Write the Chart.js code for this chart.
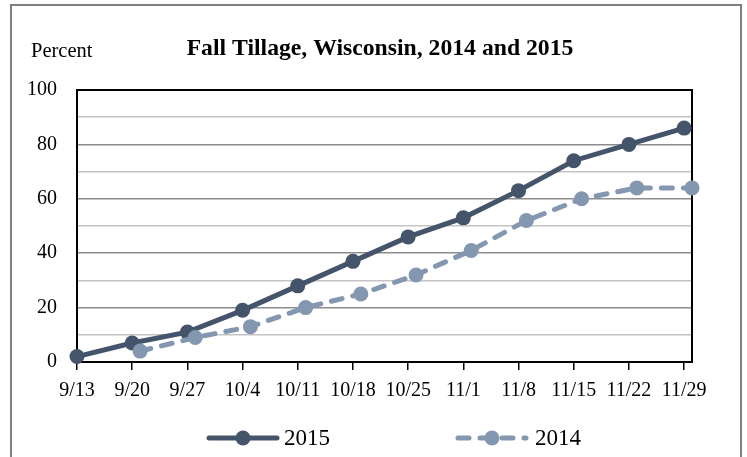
<!DOCTYPE html>
<html><head><meta charset="utf-8">
<script src="https://cdn.jsdelivr.net/npm/chart.js@4/dist/chart.umd.min.js"></script>
<style>html,body{margin:0;padding:0;background:#fff;}canvas{display:block;}</style>
</head><body>
<canvas id="c" width="747" height="457"></canvas>
<script>
// ---- data ----
const categories = ['9/13','9/20','9/27','10/4','10/11','10/18','10/25','11/1','11/8','11/15','11/22','11/29'];
const values2015 = [2,7,11,19,28,37,46,53,63,74,80,86];
const dates2014 = ['9/21','9/28','10/5','10/12','10/19','10/26','11/2','11/9','11/16','11/23','11/30'];
const values2014 = [4,9,13,20,25,32,41,52,60,64,64];
const yTickLabels = [0,20,40,60,80,100];
const axisEnd = '11/30';
const titleText = 'Fall Tillage, Wisconsin, 2014 and 2015';
const yAxisTitle = 'Percent';

// ---- helpers ----
function dayOf(md){ const p = md.split('/').map(Number); return Math.round((Date.UTC(2015,p[0]-1,p[1]) - Date.UTC(2015,8,13)) / 86400000); }
const categoryDays = categories.map(dayOf);
const SERIF = '"Liberation Serif", "Times New Roman", serif';

const C2015 = '#44546A', C2014 = '#8497B0';

const decor = {
  id: 'decor',
  beforeDraw(chart) {
    const ctx = chart.ctx;
    ctx.save();
    ctx.fillStyle = '#fff'; ctx.fillRect(0,0,chart.width,chart.height);
    ctx.strokeStyle = '#7f7f7f'; ctx.lineWidth = 2;
    ctx.strokeRect(11, 5, 730, 480);
    ctx.fillStyle = '#000';
    ctx.textBaseline = 'alphabetic';
    ctx.font = 'bold 23.7px ' + SERIF; ctx.textAlign = 'center';
    ctx.fillText(titleText, 380, 55);
    ctx.font = '20.5px ' + SERIF; ctx.textAlign = 'left';
    ctx.fillText(yAxisTitle, 31, 57);
    ctx.restore();
  },
  beforeDatasetsDraw(chart) {
    const ctx = chart.ctx, a = chart.chartArea;
    ctx.save();
    ctx.strokeStyle = '#000'; ctx.lineWidth = 2;
    ctx.strokeRect(a.left, a.top, a.right - a.left, a.bottom - a.top);
    ctx.restore();
  },
  afterDraw(chart) {
    const ctx = chart.ctx;
    const items = [[0, 243, 284], [1, 492, 535]];
    const cy = 438;
    items.forEach(([i, cx, tx]) => {
      const ds = chart.data.datasets[i];
      ctx.save();
      ctx.strokeStyle = ds.borderColor; ctx.lineWidth = ds.borderWidth; ctx.lineCap = 'round';
      ctx.setLineDash(ds.borderDash || []);
      ctx.beginPath(); ctx.moveTo(cx - 34, cy); ctx.lineTo(cx + 34, cy); ctx.stroke();
      ctx.setLineDash([]);
      ctx.fillStyle = ds.pointBackgroundColor;
      ctx.beginPath(); ctx.arc(cx, cy, ds.pointRadius, 0, Math.PI * 2); ctx.fill();
      ctx.fillStyle = '#000'; ctx.font = '23px ' + SERIF; ctx.textAlign = 'left'; ctx.textBaseline = 'middle';
      ctx.fillText(ds.label, tx, cy + 1);
      ctx.restore();
    });
  }
};

new Chart(document.getElementById('c'), {
  type: 'line',
  data: {
    datasets: [
      { label: '2015', order: 1, clip: false,
        data: categories.map((c, i) => ({ x: dayOf(c), y: values2015[i] })),
        borderColor: C2015, backgroundColor: C2015, pointBackgroundColor: C2015,
        borderWidth: 5, pointRadius: 7.5, pointBorderWidth: 0, pointHoverRadius: 7.5, tension: 0 },
      { label: '2014', order: 0, clip: false,
        data: dates2014.map((c, i) => ({ x: dayOf(c), y: values2014[i] })),
        borderColor: C2014, backgroundColor: C2014, pointBackgroundColor: C2014,
        borderWidth: 5, borderDash: [11, 11], borderCapStyle: 'round',
        pointRadius: 7.5, pointBorderWidth: 0, pointHoverRadius: 7.5, tension: 0 }
    ]
  },
  options: {
    responsive: false, animation: false, devicePixelRatio: 1,
    layout: { padding: { left: 20, right: 55, top: 90, bottom: 55 } },
    plugins: { legend: { display: false }, title: { display: false }, tooltip: { enabled: false } },
    scales: {
      x: {
        type: 'linear', min: 0, max: dayOf(axisEnd),
        afterBuildTicks: s => { s.ticks = categoryDays.map(v => ({ value: v })); },
        afterFit: s => { s.height = 40; },
        border: { display: false },
        grid: { drawOnChartArea: false, drawTicks: true, tickLength: 8, color: '#000', lineWidth: 1.5 },
        ticks: { autoSkip: false, maxRotation: 0, padding: 9, color: '#000',
          font: { family: SERIF, size: 20 },
          callback: v => { const k = categoryDays.indexOf(v); return k >= 0 ? categories[k] : ''; } }
      },
      y: {
        min: 0, max: 100,
        afterFit: s => { s.width = 57; },
        border: { display: false },
        grid: { drawTicks: false, lineWidth: 1.5,
          color: c => (c.tick && c.tick.value % 20 === 0) ? '#8c8c8c' : '#c4c4c4' },
        ticks: { stepSize: 10, padding: 20, color: '#000',
          font: { family: SERIF, size: 20 },
          callback: v => yTickLabels.includes(v) ? String(v) : '' }
      }
    }
  },
  plugins: [decor]
});
</script>
</body></html>
